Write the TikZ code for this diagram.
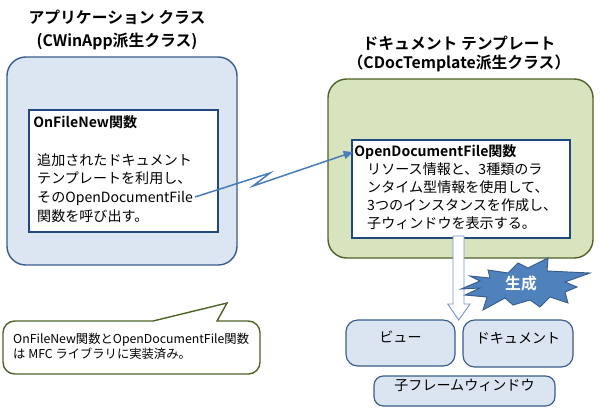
\documentclass[tikz,border=0pt]{standalone}
\usepackage{fontspec}
\setmainfont{Noto Sans CJK JP}[BoldFont={Noto Sans CJK JP Bold}]
\usetikzlibrary{arrows.meta,fit}
\definecolor{appfill}{RGB}{220,230,242}
\definecolor{appdraw}{RGB}{56,93,138}
\definecolor{tplfill}{RGB}{215,228,189}
\definecolor{tpldraw}{RGB}{79,98,40}
\definecolor{funcdraw}{RGB}{31,73,125}
\definecolor{callblue}{RGB}{74,126,187}
\definecolor{burstfill}{RGB}{79,129,189}
\definecolor{objfill}{RGB}{219,229,241}
\definecolor{hollowdraw}{RGB}{120,150,200}

\begin{document}
\begin{tikzpicture}[x=0.03cm, y=-0.03cm,
        classbox/.style={draw, rounded corners=16pt, line width=1.2pt, inner sep=0pt},
        funcbox/.style={draw=funcdraw, fill=white, line width=1pt, inner sep=0pt},
        objbox/.style={draw=appdraw, fill=objfill, rounded corners=10pt,
                       line width=1pt, inner sep=0pt, font=\fontsize{12}{14}\selectfont},
        title/.style={align=center, font=\fontsize{13.5}{15.5}\selectfont\bfseries},
        head/.style={anchor=west, inner sep=1pt, font=\fontsize{12}{14}\selectfont\bfseries},
        body/.style={anchor=north west, inner sep=0pt, align=left},
        callarrow/.style={-{Triangle[length=8pt,width=7pt]}, callblue, line width=1.3pt},
    ]
        \useasboundingbox (0,0) rectangle (600,411);

        % Class boxes
        \node[title] (apptitle) at (117,30)
              {アプリケーション クラス\\[4pt](CWinApp派生クラス)};
        \node[classbox, draw=appdraw, fill=appfill, fit={(7,57) (237,265)}] (appcls) {};
        \node[title] (tpltitle) at (459,54)
              {ドキュメント テンプレート\\（CDocTemplate派生クラス）};
        \node[classbox, draw=tpldraw, fill=tplfill, fit={(328,79) (593,258)}] (tplcls) {};

        % Functions
        \node[funcbox, fit={(29,110) (218,232)}] (ofnbox) {};
        \node[head] (ofnhead) at (32,122) {OnFileNew関数};
        \node[body, font=\fontsize{12}{16}\selectfont] (ofnbody) at (37,153)
              {追加されたドキュメント\\テンプレートを利用し、\\そのOpenDocumentFile\\関数を呼び出す。};
        \coordinate (callsrc) at (195,197);

        \node[funcbox, fit={(352,140) (570,238)}] (odfbox) {};
        \node[head] (odfhead) at (353,152) {OpenDocumentFile関数};
        \node[body, font=\fontsize{12}{15.5}\selectfont] (odfbody) at (367,162)
              {リソース情報と、3種類のラ\\ンタイム型情報を使用して、\\3つのインスタンスを作成し、\\子ウィンドウを表示する。};

        % Call
        \draw[callarrow] (callsrc) -- (270,173) -- (253,186) -- (odfhead.west);

        % Creation
        \draw[hollowdraw, fill=white, line width=0.8pt]
              (453,236) -- (464,236) -- (464,304) -- (470,304) -- (458.7,320)
              -- (447.7,304) -- (453,304) -- cycle;
        \draw[appdraw, fill=burstfill, line width=0.8pt]
              (518,263) -- (528,268) -- (548,258) -- (547,271) -- (590,273)
              -- (565,282) -- (577,287) -- (565,292) -- (568,303) -- (550,297)
              -- (540,307) -- (530,300) -- (513,305) -- (505,298) -- (483,310)
              -- (487,297) -- (465,295) -- (480,288) -- (461,289) -- (480,281)
              -- (470,276) -- (490,278) -- (488,270) -- (508,273) -- cycle;
        \node[white, font=\fontsize{13.5}{15}\selectfont\bfseries] (gen) at (521,284) {生成};

        % Objects
        \node[objbox, fit={(346,320) (455,366)}] (view) {ビュー};
        \node[objbox, fit={(463,320) (573,367)}] (doc) {ドキュメント};
        \node[objbox, rounded corners=8pt, fit={(374,376) (555,406)}] (frame) {子フレームウィンドウ};

        % Note
        \draw[tpldraw, fill=white, line width=1.2pt]
              (153,321) [rounded corners=10pt] -- (3,321) -- (3,374) -- (260,374)
              -- (260,321) [sharp corners] -- (217,321) -- (227,303) -- cycle;
        \node[body, font=\fontsize{10.5}{13}\selectfont] (note) at (13,333)
              {OnFileNew関数とOpenDocumentFile関数\\は MFC ライブラリに実装済み。};
    \end{tikzpicture}
\end{document}
